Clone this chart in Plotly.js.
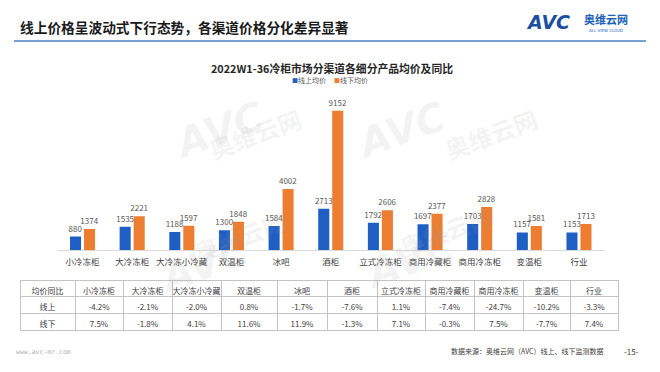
<!DOCTYPE html>
<html><head><meta charset="utf-8">
<script src="https://cdn.plot.ly/plotly-3.0.1.min.js"></script>
<style>html,body{margin:0;padding:0;background:#fff}#chart{width:660px;height:372px}</style>
</head><body><div id="chart"></div>
<script>
const categories = ['小冷冻柜','大冷冻柜','大冷冻小冷藏','双温柜','冰吧','酒柜','立式冷冻柜','商用冷藏柜','商用冷冻柜','变温柜','行业'];
const onlinePrice = [880,1535,1188,1300,1584,2713,1792,1697,1703,1157,1153];
const offlinePrice = [1374,2221,1597,1848,4002,9152,2606,2377,2828,1581,1713];
const onlineYoY = [-4.2,-2.1,-2.0,0.8,-1.7,-7.6,1.1,-7.4,-24.7,-10.2,-3.3];
const offlineYoY = [7.5,-1.8,4.1,11.6,11.9,-1.3,7.1,-0.3,7.5,-7.7,7.4];
const seriesNames = ['线上均价','线下均价'];
const seriesColors = ['#1f5fc4','#ed7d31'];
const tableCorner = '均价同比';
const rowLabels = ['线上','线下'];
const pageTitle = '线上价格呈波动式下行态势，各渠道价格分化差异显著';
const chartTitle = '2022W1-36冷柜市场分渠道各细分产品均价及同比';
const sourceNote = '数据来源：奥维云网（AVC）线上、线下监测数据';
const siteUrl = 'www.avc-mr.com';
const pageNo = '-15-';

const FONT = 'Noto Sans CJK SC, Noto Sans, sans-serif';
const W = 660, H = 372;
const px = x => x / W, py = y => 1 - y / H;
const fmtPct = v => v.toFixed(1) + '%';

const barCommon = {
  type: 'bar', textposition: 'outside', cliponaxis: false, constraintext: 'none',
  textfont: {family: FONT, size: 8, color: '#595959'}, hoverinfo: 'skip', showlegend: false
};
const traces = [
  Object.assign({}, barCommon, {name: seriesNames[0], x: categories, y: onlinePrice,
    text: onlinePrice.map(String), marker: {color: seriesColors[0]}}),
  Object.assign({}, barCommon, {name: seriesNames[1], x: categories, y: offlinePrice,
    text: offlinePrice.map(String), marker: {color: seriesColors[1]}}),
  {
    type: 'table',
    domain: {x: [px(20), px(618)], y: [0.02, py(280)]},
    columnwidth: [55,48,49,49,56,50,50,48,49,49,47,48],
    header: {
      values: [tableCorner].concat(categories),
      align: 'center', height: 16,
      font: {family: FONT, size: 8, color: '#404040'},
      line: {color: '#c4c4c4', width: 1}, fill: {color: '#ffffff'}
    },
    cells: {
      values: [rowLabels].concat(categories.map((c, i) => [fmtPct(onlineYoY[i]), fmtPct(offlineYoY[i])])),
      align: 'center', height: 17,
      font: {family: FONT, size: 8, color: '#404040'},
      line: {color: '#c4c4c4', width: 1}, fill: {color: '#ffffff'}
    }
  }
];

const annotations = [
  {text: pageTitle, x: px(18), y: py(27), xref: 'paper', yref: 'paper', xanchor: 'left', yanchor: 'middle',
   showarrow: false, font: {family: FONT, size: 13.7, color: '#1a1a1a', weight: 'bold'}},
  {text: chartTitle, x: px(332), y: py(68), xref: 'paper', yref: 'paper', xanchor: 'center', yanchor: 'middle',
   showarrow: false, font: {family: FONT, size: 10.8, color: '#262626', weight: 'bold'}},
  {text: '<i><b>AVC</b></i>', x: px(548), y: py(22), xref: 'paper', yref: 'paper', xanchor: 'center', yanchor: 'middle',
   showarrow: false, font: {family: 'DejaVu Sans, sans-serif', size: 19, color: '#1d4fa0'}},
  {text: '<b>奥维云网</b>', x: px(606), y: py(19), xref: 'paper', yref: 'paper', xanchor: 'center', yanchor: 'middle',
   showarrow: false, font: {family: FONT, size: 11, color: '#2060b8'}},
  {text: 'ALL VIEW CLOUD', x: px(606), y: py(30), xref: 'paper', yref: 'paper', xanchor: 'center', yanchor: 'middle',
   showarrow: false, font: {family: 'DejaVu Sans, sans-serif', size: 4, color: '#2060b8'}},
  {text: siteUrl, x: px(14), y: py(352), xref: 'paper', yref: 'paper', xanchor: 'left', yanchor: 'middle',
   showarrow: false, font: {family: 'DejaVu Sans Mono, monospace', size: 6.5, color: '#b0b0b0'}},
  {text: sourceNote, x: px(606), y: py(351), xref: 'paper', yref: 'paper', xanchor: 'right', yanchor: 'middle',
   showarrow: false, font: {family: FONT, size: 7, color: '#404040'}},
  {text: pageNo, x: px(641), y: py(351), xref: 'paper', yref: 'paper', xanchor: 'right', yanchor: 'middle',
   showarrow: false, font: {family: FONT, size: 8, color: '#404040'}}
];
// legend (compact, like the original)
const legendX = [290, 332];
seriesNames.forEach((n, i) => {
  annotations.push({text: '<span style="color:' + seriesColors[i] + ';font-size:6px">■</span>' + n,
    x: px(legendX[i]), y: py(80), xref: 'paper', yref: 'paper', xanchor: 'left', yanchor: 'middle',
    showarrow: false, font: {family: FONT, size: 7, color: '#595959'}});
});
// faint watermarks
const wm = [[165,130,255,98],[455,130,545,98],[150,305,240,272],[410,300,500,266]];
wm.forEach(([ax, ay, bx, by]) => {
  annotations.push({text: '<b><i>AVC</i></b>', x: px(ax), y: py(ay), xref: 'paper', yref: 'paper', showarrow: false,
    textangle: -20, font: {family: 'DejaVu Sans, sans-serif', size: 40, color: 'rgba(160,160,160,0.12)'}});
  annotations.push({text: '<b>奥维云网</b>', x: px(bx), y: py(by), xref: 'paper', yref: 'paper', showarrow: false,
    textangle: -20, font: {family: FONT, size: 24, color: 'rgba(160,160,160,0.12)'}});
});

const layout = {
  width: W, height: H,
  margin: {l: 0, r: 0, t: 0, b: 0},
  paper_bgcolor: '#ffffff', plot_bgcolor: '#ffffff',
  font: {family: FONT},
  barmode: 'group', bargap: 0.436, bargroupgap: 0.21,
  xaxis: {domain: [px(57.7), px(603.8)], type: 'category', showline: true, linecolor: '#d9d9d9', linewidth: 1,
    ticks: '', showgrid: false, zeroline: false, fixedrange: true, ticklabelstandoff: 4,
    tickfont: {family: FONT, size: 8.5, color: '#404040'}},
  yaxis: {domain: [py(250), py(100)], range: [0, 9855], visible: false, fixedrange: true},
  showlegend: false,
  shapes: [{type: 'line', xref: 'paper', yref: 'paper', x0: px(14), x1: px(646), y0: py(41), y1: py(41),
    line: {color: '#4a7fc1', width: 1.5}}],
  annotations: annotations
};

Plotly.newPlot('chart', traces, layout, {displayModeBar: false, staticPlot: true});
</script>
</body></html>
